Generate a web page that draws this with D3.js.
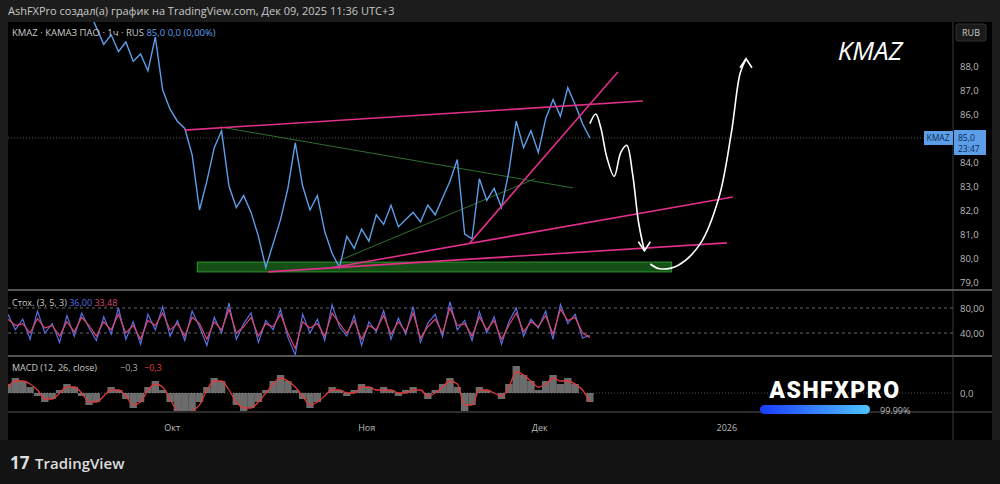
<!DOCTYPE html>
<html><head><meta charset="utf-8">
<script src="https://cdn.jsdelivr.net/npm/d3@7"></script>
<style>body{margin:0;background:#1c1c1c;font-family:"Open Sans",sans-serif}</style>
</head><body><svg id="c" width="1000" height="484"></svg>
<script>
const price = [90.5,90.2,90.8,90.4,90.9,90.3,90.6,90.1,90.7,90.2,89.9,90.3,89.6,88.9,89.3,88.6,89.0,88.2,88.5,87.8,
  89.2,87.0,86.2,85.7,85.4,84.3,82.0,83.2,84.6,85.3,83.0,82.1,82.6,81.9,80.9,79.6,80.6,81.6,82.9,84.8,
  83.0,82.0,82.6,81.1,80.2,79.6,80.9,80.4,81.2,80.7,81.8,81.4,82.2,81.3,81.6,81.9,81.5,82.2,81.8,82.5,
  83.2,84.1,81.0,80.8,83.3,82.4,82.9,82.1,83.6,85.7,84.6,85.3,84.4,85.8,86.6,85.9,87.1,86.4,85.6,85.0]
const stochK = [70,45,62,30,75,40,55,25,68,35,72,48,28,66,38,80,30,58,22,70,
  45,82,35,60,28,75,50,20,65,40,88,30,55,72,25,60,45,78,33,5,
  70,40,62,28,85,50,35,68,20,58,42,76,30,64,38,82,25,56,70,34,
  90,45,60,28,74,40,66,22,58,80,35,62,48,75,30,86,55,70,32,36]
const stochD = [62,52,55,40,63,48,52,35,58,42,65,52,35,58,45,70,40,52,30,60,
  52,72,45,55,35,65,55,30,58,45,78,40,50,65,35,55,50,70,40,15,
  58,48,55,35,72,55,40,60,30,52,45,68,38,58,42,72,32,50,62,40,
  80,52,55,35,66,45,60,30,52,72,42,58,50,68,38,78,60,65,40,33]
const macd = [0.3,0.5,0.4,0.2,-0.1,-0.3,-0.2,0.1,0.3,0.2,-0.1,-0.4,-0.3,0.0,0.2,0.1,-0.2,-0.5,-0.3,0.2,
  0.4,0.1,-0.3,-0.7,-0.8,-0.6,-0.3,0.2,0.5,0.4,0.0,-0.4,-0.6,-0.5,-0.3,0.1,0.4,0.6,0.4,0.1,
  -0.2,-0.5,-0.3,0.0,0.2,0.1,-0.1,0.1,0.3,0.2,0.0,0.2,0.1,-0.1,0.1,0.2,0.0,-0.2,0.1,0.3,
  0.5,0.2,-0.6,-0.4,0.2,0.1,0.0,-0.2,0.3,0.9,0.6,0.4,0.1,0.4,0.6,0.3,0.5,0.3,0.0,-0.3]
const signal = [0.2,0.4,0.4,0.3,0.1,-0.2,-0.2,0.0,0.2,0.2,0.0,-0.3,-0.3,-0.1,0.1,0.1,-0.1,-0.4,-0.3,0.1,
  0.3,0.2,-0.2,-0.6,-0.7,-0.6,-0.4,0.1,0.4,0.4,0.1,-0.3,-0.5,-0.5,-0.3,0.0,0.3,0.5,0.4,0.2,
  -0.1,-0.4,-0.3,-0.1,0.1,0.1,0.0,0.0,0.2,0.2,0.1,0.1,0.1,0.0,0.0,0.1,0.1,-0.1,0.0,0.2,
  0.4,0.3,-0.4,-0.4,0.1,0.1,0.0,-0.1,0.2,0.7,0.6,0.4,0.2,0.3,0.5,0.4,0.4,0.3,0.1,-0.3]
const priceTicks = [79,80,81,82,83,84,86,87,88]
const timeTicks = [{label:'Окт', bar:22.3},{label:'Ноя', bar:48.7},{label:'Дек', bar:72.2},{label:'2026', bar:97.6}]
// drawings in (bar, price)
const pinkLines = [[[24,85.33],[86.2,86.54]],[[62.7,80.63],[82.8,87.75]],[[35.3,79.42],[97.6,80.63]],[[43.7,79.58],[98.4,82.54]]]
const greenLines = [[[28.8,85.46],[76.7,82.92]],[[45,79.9],[71.5,83.3]]]
const supportZone = [[25.7,79.83],[90.1,79.42]]
const arrowDown = [[79,85.6],[79.8,86.0],[80.5,85.4],[81.3,84.2],[82.3,83.4],[83.2,84.4],[84,84.7],[84.8,83.5],[85.6,81.5],[86.4,80.3]]
const arrowUp = [[87.2,79.75],[88.5,79.55],[91,79.7],[94,80.6],[96.5,82.5],[98.2,85.2],[99.4,87.7],[100.2,88.3]]

const svg = d3.select('#c')
const L = 8, R = 953
const x = d3.scaleLinear().domain([0, 128.3]).range([L, R])
const y = d3.scaleLinear().domain([79, 88]).range([282, 66])
const ys = d3.scaleLinear().domain([0, 100]).range([358, 295.5])
const ym = d3.scaleLinear().domain([-1, 1]).range([423, 363])

svg.append('rect').attr('x', L).attr('y', 22).attr('width', 984).attr('height', 418).attr('fill', '#000')
svg.append('rect').attr('x', 0).attr('y', 440).attr('width', 1000).attr('height', 44).attr('fill', '#131313')
svg.append('text').attr('x', 8).attr('y', 15).attr('fill', '#c8c8c8').attr('font-size', 11)
  .text('AshFXPro создал(а) график на TradingView.com, Дек 09, 2025 11:36 UTC+3')

const grey = '#3a3a3a'
svg.append('line').attr('x1', R).attr('x2', R).attr('y1', 22).attr('y2', 440).attr('stroke', grey)
;[290, 356, 412].forEach(v => svg.append('line').attr('x1', L).attr('x2', 992).attr('y1', v).attr('y2', v).attr('stroke', '#555').attr('stroke-width', v === 412 ? 1 : 2))

const clip = (id, y0, y1) => svg.append('clipPath').attr('id', id).append('rect').attr('x', L).attr('y', y0).attr('width', R - L).attr('height', y1 - y0)
clip('cp', 22, 289); clip('cs', 291, 355); clip('cm', 357, 411)

// price axis
priceTicks.forEach(t => svg.append('text').attr('x', 960).attr('y', y(t) + 4).attr('fill', '#bbb').attr('font-size', 9.5).text(d3.format('.1f')(t).replace('.', ',')))
svg.append('rect').attr('x', 956).attr('y', 24).attr('width', 30).attr('height', 17).attr('rx', 2).attr('fill', '#1a1a1a').attr('stroke', '#333')
svg.append('text').attr('x', 971).attr('y', 36).attr('text-anchor', 'middle').attr('fill', '#ccc').attr('font-size', 9).text('RUB')

const gp = svg.append('g').attr('clip-path', 'url(#cp)')
gp.append('line').attr('x1', L).attr('x2', R).attr('y1', y(85)).attr('y2', y(85)).attr('stroke', '#555').attr('stroke-dasharray', '1,2')
gp.append('rect').attr('x', x(supportZone[0][0])).attr('y', y(supportZone[0][1]))
  .attr('width', x(supportZone[1][0]) - x(supportZone[0][0])).attr('height', y(supportZone[1][1]) - y(supportZone[0][1]))
  .attr('fill', '#1d6b1d').attr('fill-opacity', 0.75).attr('stroke', '#2e9a2e')
const ln = d3.line().x(d => x(d[0])).y(d => y(d[1]))
greenLines.forEach(l => gp.append('path').attr('d', ln(l)).attr('stroke', '#2f6e2f').attr('fill', 'none'))
gp.append('path').datum(price).attr('d', d3.line().x((d, i) => x(i)).y(d => y(d))).attr('fill', 'none').attr('stroke', '#5d9ee8').attr('stroke-width', 1.4)
pinkLines.forEach(l => gp.append('path').attr('d', ln(l)).attr('stroke', '#e0308a').attr('stroke-width', 1.6).attr('fill', 'none'))
const cl = d3.line().x(d => x(d[0])).y(d => y(d[1])).curve(d3.curveCatmullRom)
gp.append('path').attr('d', cl(arrowDown)).attr('stroke', '#fff').attr('stroke-width', 1.6).attr('fill', 'none')
gp.append('path').attr('d', cl(arrowUp)).attr('stroke', '#fff').attr('stroke-width', 1.6).attr('fill', 'none')
const head = (p, dy) => gp.append('path').attr('d', `M${x(p[0]) - 6},${y(p[1]) - 9 * dy}L${x(p[0])},${y(p[1])}L${x(p[0]) + 6},${y(p[1]) - 9 * dy}`).attr('stroke', '#fff').attr('stroke-width', 1.6).attr('fill', 'none')
head(arrowDown[arrowDown.length - 1], 1)
head(arrowUp[arrowUp.length - 1], -1)

svg.append('text').attr('x', 12).attr('y', 36).attr('fill', '#ccc').attr('font-size', 9.5).text('KMAZ · КАМАЗ ПАО · 1ч · RUS')
  .append('tspan').attr('fill', '#5d9ee8').text('  85,0  0,0 (0,00%)')
svg.append('text').attr('x', 870).attr('y', 60).attr('text-anchor', 'middle').attr('fill', '#fff').attr('font-size', 26).attr('font-style', 'italic').text('KMAZ')
svg.append('rect').attr('x', 924).attr('y', y(85) - 7).attr('width', 29).attr('height', 14).attr('fill', '#5d9ee8')
svg.append('text').attr('x', 938).attr('y', y(85) + 3).attr('text-anchor', 'middle').attr('fill', '#0b2a55').attr('font-size', 8.5).text('KMAZ')
svg.append('rect').attr('x', 954).attr('y', y(85) - 8).attr('width', 32).attr('height', 25).attr('fill', '#5d9ee8')
svg.append('text').attr('x', 958).attr('y', y(85) + 3).attr('fill', '#0b2a55').attr('font-size', 8.5).text('85,0')
svg.append('text').attr('x', 958).attr('y', y(85) + 14).attr('fill', '#0b2a55').attr('font-size', 8.5).text('23:47')

// stochastic
const gs = svg.append('g').attr('clip-path', 'url(#cs)')
;[80, 40].forEach(v => {
  gs.append('line').attr('x1', L).attr('x2', R).attr('y1', ys(v)).attr('y2', ys(v)).attr('stroke', '#666').attr('stroke-dasharray', '3,3')
  svg.append('text').attr('x', 960).attr('y', ys(v) + 4).attr('fill', '#bbb').attr('font-size', 9.5).text(d3.format('.2f')(v).replace('.', ','))
})
const sl = d3.line().x((d, i) => x(i)).y(d => ys(d))
gs.append('path').datum(stochK).attr('d', sl).attr('fill', 'none').attr('stroke', '#5a6fe0').attr('stroke-width', 1.2)
gs.append('path').datum(stochD).attr('d', sl).attr('fill', 'none').attr('stroke', '#d9466e').attr('stroke-width', 1.2)
svg.append('text').attr('x', 12).attr('y', 306).attr('fill', '#ccc').attr('font-size', 9).text('Стох. (3, 5, 3) ')
  .call(t => { t.append('tspan').attr('fill', '#5a6fe0').text('36,00 '); t.append('tspan').attr('fill', '#d9466e').text('33,48') })

// MACD
const gm = svg.append('g').attr('clip-path', 'url(#cm)')
gm.append('line').attr('x1', L).attr('x2', R).attr('y1', ym(0)).attr('y2', ym(0)).attr('stroke', '#555').attr('stroke-dasharray', '1,2')
const bw = x(1) - x(0)
gm.selectAll('.h').data(macd).join('rect').attr('x', (d, i) => x(i) - bw / 2).attr('width', bw)
  .attr('y', d => ym(Math.max(0, d))).attr('height', d => Math.abs(ym(d) - ym(0))).attr('fill', '#9a9a9a').attr('fill-opacity', 0.7)
gm.append('path').datum(signal).attr('d', d3.line().x((d, i) => x(i)).y(d => ym(d)).curve(d3.curveMonotoneX)).attr('fill', 'none').attr('stroke', '#e03a3a').attr('stroke-width', 1.3)
svg.append('text').attr('x', 960).attr('y', ym(0) + 4).attr('fill', '#bbb').attr('font-size', 9.5).text('0,0')
svg.append('text').attr('x', 12).attr('y', 371).attr('fill', '#ccc').attr('font-size', 9).text('MACD (12, 26, close)')
svg.append('text').attr('x', 120).attr('y', 371).attr('fill', '#aaa').attr('font-size', 9).text('−0,3')
svg.append('text').attr('x', 144).attr('y', 371).attr('fill', '#e03a3a').attr('font-size', 9).text('−0,3')

// watermark
svg.append('text').attr('x', 835).attr('y', 398).attr('text-anchor', 'middle').attr('fill', '#fff').attr('font-size', 23).attr('font-weight', 900).attr('font-family', 'Roboto').attr('letter-spacing', 1.5).text('ASHFXPRO')
const gr = svg.append('defs').append('linearGradient').attr('id', 'gb')
gr.append('stop').attr('offset', 0).attr('stop-color', '#1a3cff')
gr.append('stop').attr('offset', 1).attr('stop-color', '#4fc3ff')
svg.append('rect').attr('x', 760).attr('y', 405).attr('width', 110).attr('height', 9).attr('rx', 4.5).attr('fill', 'url(#gb)')
svg.append('text').attr('x', 880).attr('y', 414).attr('fill', '#bbb').attr('font-size', 9).text('99.99%')

// time axis
timeTicks.forEach(t => svg.append('text').attr('x', x(t.bar)).attr('y', 431).attr('text-anchor', 'middle').attr('fill', '#bbb').attr('font-size', 9).text(t.label))
svg.append('text').attr('x', 10).attr('y', 469).attr('fill', '#ddd').attr('font-size', 17).attr('font-weight', 'bold').text('17')
svg.append('text').attr('x', 35).attr('y', 469).attr('fill', '#ddd').attr('font-size', 15).attr('font-weight', 600).text('TradingView')
</script></body></html>
